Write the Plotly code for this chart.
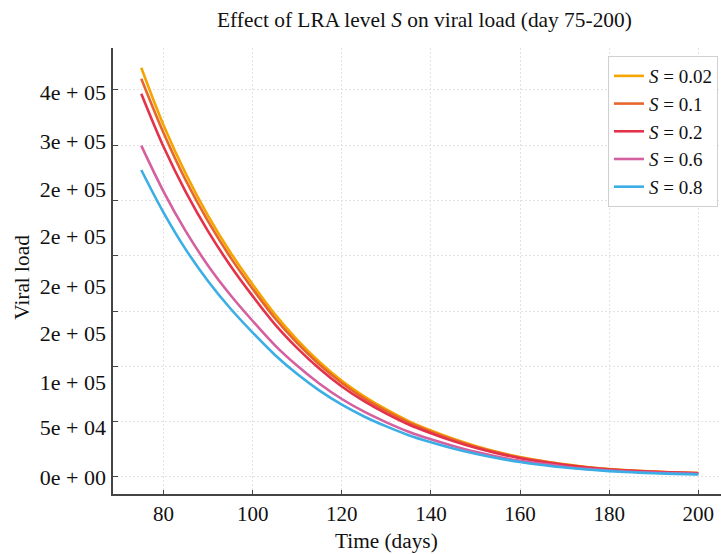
import plotly.graph_objects as go

days = [75, 80, 85, 90, 95, 100, 105, 110, 115, 120, 125, 130, 135, 140, 145,
        150, 155, 160, 165, 170, 175, 180, 185, 190, 195, 200]

v_s002 = [370000, 318000, 274000, 236000, 203000, 174000, 147000, 124000, 104000, 87000,
          73000, 61000, 50500, 42000, 34500, 28000, 22500, 18000, 14500, 11500,
          9000, 7200, 5800, 4800, 4100, 3600]
v_s01 = [360000, 311000, 268000, 231000, 198500, 170000, 143500, 121000, 101500, 85000,
         71000, 59500, 49300, 41000, 33700, 27400, 22000, 17600, 14200, 11200,
         8800, 7000, 5700, 4700, 4000, 3500]
v_s02 = [346500, 298500, 257500, 222000, 191000, 163500, 138000, 116500, 97800, 81800,
         68500, 57200, 47400, 39500, 32400, 26300, 21200, 17000, 13700, 10800,
         8500, 6800, 5500, 4600, 3900, 3400]
v_s06 = [299500, 258000, 222000, 191000, 164500, 141000, 119000, 100500, 84300, 70500,
         59000, 49400, 40900, 34000, 28000, 22700, 18300, 14600, 11800, 9300,
         7300, 5800, 4700, 3900, 3300, 2800]
v_s08 = [277500, 239000, 205500, 177000, 152300, 130500, 110300, 93000, 78000, 65300,
         54700, 45700, 37800, 31400, 25800, 21000, 16900, 13500, 10800, 8500,
         6700, 5300, 4200, 3400, 2800, 2300]

series_names = ["<i>S</i> = 0.02", "<i>S</i> = 0.1", "<i>S</i> = 0.2", "<i>S</i> = 0.6", "<i>S</i> = 0.8"]
series_vals = [v_s002, v_s01, v_s02, v_s06, v_s08]
colors = ["#F5A500", "#E8652C", "#E3324A", "#D460A0", "#3BAEE6"]

x_ticks = [80, 100, 120, 140, 160, 180, 200]
y_ticks = [0, 50000, 100000, 150000, 200000, 250000, 300000, 350000]
y_label_vals = [0, 45300, 86000, 130000, 172600, 217800, 260400, 303800, 347600]
y_label_text = ["0e + 00", "5e + 04", "1e + 05", "2e + 05", "2e + 05", "2e + 05",
                "2e + 05", "3e + 05", "4e + 05"]

FONT = "Liberation Serif"
YR = [-15400, 387800]
GRID = "#e2e2e2"

fig = go.Figure()
for name, vals, c in zip(series_names, series_vals, colors):
    fig.add_trace(go.Scatter(x=days, y=vals, mode="lines", name=name,
                             line=dict(color=c, width=2.6, shape="spline"),
                             yaxis="y"))
# invisible carrier trace for the label axis
fig.add_trace(go.Scatter(x=days, y=v_s002, mode="lines", yaxis="y2",
                         line=dict(width=0, color="rgba(0,0,0,0)"),
                         showlegend=False, hoverinfo="skip"))

fig.update_layout(
    width=721, height=554,
    margin=dict(l=113, r=0, t=48, b=60),
    paper_bgcolor="white", plot_bgcolor="white",
    font=dict(family=FONT, size=21, color="#111"),
    showlegend=True,
    legend=dict(x=0.995, y=0.982, xanchor="right", yanchor="top",
                bgcolor="rgba(255,255,255,0.9)", bordercolor="#d0d0d0", borderwidth=1,
                font=dict(family=FONT, size=19, color="#111"),
                tracegroupgap=0, itemwidth=30),
    xaxis=dict(range=[68.65, 205.1], tickvals=x_ticks, ticks="inside", ticklen=4,
               tickcolor="#444", showline=True, linecolor="#444", linewidth=1.8,
               showgrid=True, gridcolor=GRID, gridwidth=0.8, griddash="2px,2px",
               zeroline=False, tickfont=dict(size=21)),
    yaxis=dict(range=YR, tickvals=y_ticks, showticklabels=False, ticks="inside",
               ticklen=5, tickcolor="#444", showline=True, linecolor="#444",
               linewidth=1.8, showgrid=True, gridcolor=GRID, gridwidth=0.8,
               griddash="2px,2px", zeroline=False),
    yaxis2=dict(range=YR, overlaying="y", side="left", anchor="x",
                tickvals=y_label_vals, ticktext=y_label_text, ticks="",
                showgrid=False, showline=False, zeroline=False,
                ticklabelstandoff=6, tickfont=dict(size=22)),
    annotations=[
        dict(text="Effect of LRA level <i>S</i> on viral load (day 75-200)",
             xref="paper", yref="paper", x=0.513, y=1.0, yshift=28,
             xanchor="center", yanchor="middle", showarrow=False,
             font=dict(family=FONT, size=21.4)),
        dict(text="Time (days)", xref="paper", yref="paper", x=0.450, y=0,
             yshift=-47, xanchor="center", yanchor="middle", showarrow=False,
             font=dict(family=FONT, size=21.3)),
        dict(text="Viral load", xref="paper", yref="paper", x=0, xshift=-91,
             y=0.485, xanchor="center", yanchor="middle", textangle=-90,
             showarrow=False, font=dict(family=FONT, size=21.3)),
    ],
)

fig.write_html("out.html")
